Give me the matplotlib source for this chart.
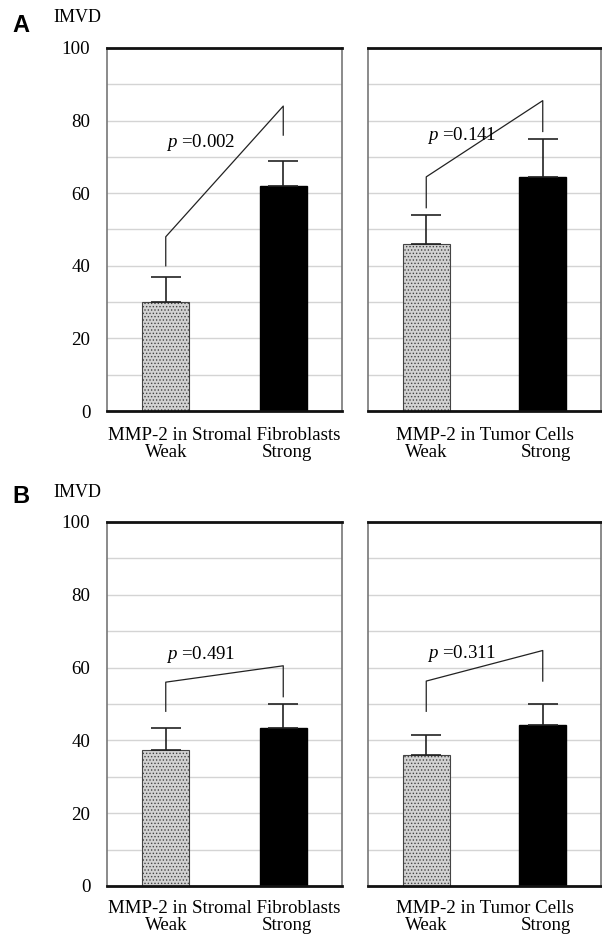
import matplotlib
matplotlib.use("Agg")
import matplotlib.pyplot as plt
import matplotlib.transforms as mtransforms
import numpy as np

plt.rcParams['font.family'] = ['Liberation Serif', 'DejaVu Serif']
plt.rcParams['mathtext.fontset'] = 'custom'
plt.rcParams['mathtext.rm'] = 'Liberation Serif'
plt.rcParams['mathtext.it'] = 'Liberation Serif:italic'
plt.rcParams['hatch.color'] = '#8a8a8a'
plt.rcParams['hatch.linewidth'] = 0.6

# data
groups = ['Weak', 'Strong']
titles = ['MMP-2 in Stromal Fibroblasts', 'MMP-2 in Tumor Cells']
means_A = [[30, 62], [46, 64.5]]
errs_A = [[7, 7], [8, 10.5]]
pvals_A = ['0.002', '0.141']
brackets_A = [[40, 48, 84, 76], [56, 64.5, 85.5, 77]]
means_B = [[37.5, 43.3], [36, 44.3]]
errs_B = [[6, 6.7], [5.5, 5.7]]
pvals_B = ['0.491', '0.311']
brackets_B = [[48, 56, 60.5, 52], [48, 56.3, 64.7, 56.3]]
yticks = [0, 20, 40, 60, 80, 100]

W, H = 602, 935
FS = 13.6
fig = plt.figure(figsize=(W / 100, H / 100), dpi=100)

def px(x, y):
    return x / W, 1 - y / H

def panel(rect, means, errs, pval, br, first, txt_y, lab_y):
    ax = fig.add_axes(rect)
    x = np.arange(len(groups))
    ax.bar(x[0], means[0], 0.4, color='#d2d2d2', edgecolor='#444444',
           hatch='.....', linewidth=0.8, zorder=2)
    ax.bar(x[1], means[1], 0.4, color='black', edgecolor='black', zorder=2)
    ax.errorbar(x, means, yerr=[[0, 0], errs], fmt='none', ecolor='#222222',
                elinewidth=1.2, capsize=11, capthick=1.2, zorder=3)
    ax.plot([0, 0, 1, 1], br, color='#222222', lw=0.9, zorder=3)
    ax.text(0.3, txt_y, r'$p$ =' + pval, ha='center', va='center', fontsize=FS)
    ax.set_xlim(-0.5, 1.5)
    ax.set_ylim(0, 100)
    ax.set_xticks([])
    ax.set_yticks(yticks)
    ax.set_yticks(np.arange(0, 101, 10), minor=True)
    ax.yaxis.grid(True, which='both', color='#d4d4d4', lw=1.0, zorder=0)
    ax.set_axisbelow(True)
    ax.tick_params(axis='y', which='both', length=0, pad=12, labelsize=FS)
    if not first:
        ax.set_yticklabels([])
    for s in ['top', 'bottom']:
        ax.spines[s].set_linewidth(2)
        ax.spines[s].set_color('#111111')
    for s in ['left', 'right']:
        ax.spines[s].set_linewidth(1.2)
        ax.spines[s].set_color('#777777')
    tr = mtransforms.blended_transform_factory(ax.transData, fig.transFigure)
    ax.text(0.5, 1 - lab_y / H, titles[0] if first else titles[1], transform=tr,
            ha='center', va='baseline', fontsize=FS)
    ax.text(0, 1 - (lab_y + 17) / H, groups[0], transform=tr,
            ha='center', va='baseline', fontsize=FS)
    ax.text(1.03, 1 - (lab_y + 17) / H, groups[1], transform=tr,
            ha='center', va='baseline', fontsize=FS)
    return ax

# panel A
yb, yt = 411, 48
panel([107 / W, 1 - yb / H, 235 / W, (yb - yt) / H], means_A[0], errs_A[0],
      pvals_A[0], brackets_A[0], True, 74, 440)
panel([368 / W, 1 - yb / H, 233 / W, (yb - yt) / H], means_A[1], errs_A[1],
      pvals_A[1], brackets_A[1], False, 76, 440)
# panel B
yb, yt = 886, 522
panel([107 / W, 1 - yb / H, 235 / W, (yb - yt) / H], means_B[0], errs_B[0],
      pvals_B[0], brackets_B[0], True, 63.5, 913)
panel([368 / W, 1 - yb / H, 233 / W, (yb - yt) / H], means_B[1], errs_B[1],
      pvals_B[1], brackets_B[1], False, 64, 913)

fig.text(*px(21, 25), 'A', family='Liberation Sans', weight='bold', fontsize=17,
         ha='center', va='center')
fig.text(*px(53, 18), 'IMVD', ha='left', va='center', fontsize=13)
fig.text(*px(21, 497), 'B', family='Liberation Sans', weight='bold', fontsize=17,
         ha='center', va='center')
fig.text(*px(53, 492), 'IMVD', ha='left', va='center', fontsize=13)

fig.savefig('out.png', dpi=100)
